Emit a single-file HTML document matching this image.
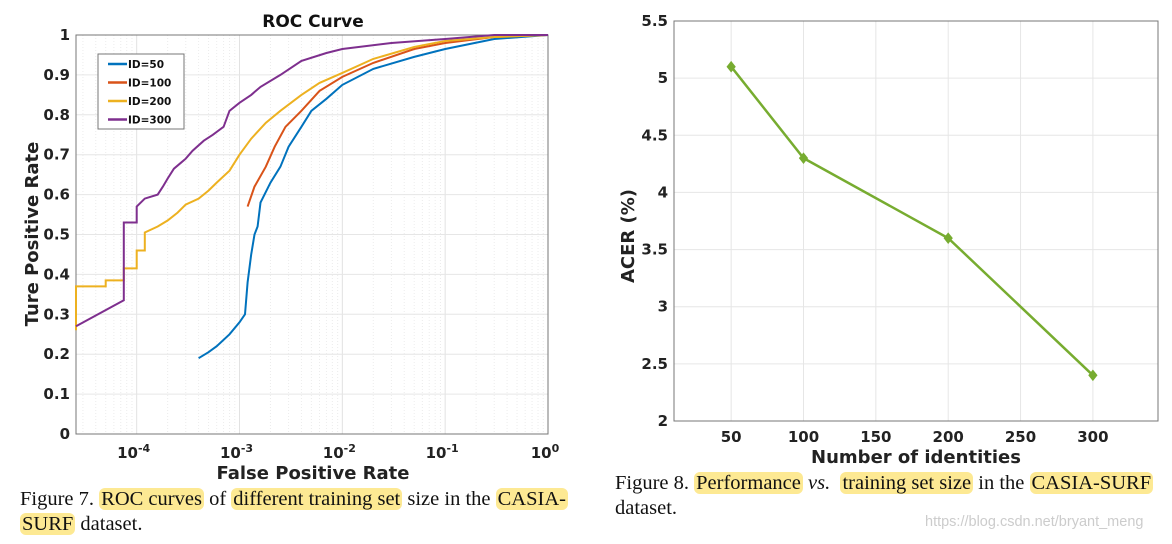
<!DOCTYPE html>
<html><head><meta charset="utf-8"><style>
body{margin:0;width:1172px;height:544px;background:#fff;overflow:hidden;position:relative}
svg{position:absolute;left:0;top:0}
.cap{position:absolute;font-family:"Liberation Serif",serif;font-size:20.5px;color:#111;line-height:25px;white-space:nowrap}
.hl{background:#fde993;border-radius:6px;padding:0 2px}
.wm{position:absolute;left:925px;top:514px;font-family:"Liberation Sans",sans-serif;font-size:14.5px;color:#ccc}
</style></head><body>
<svg id="svg" width="1172" height="544"></svg>
<div class="cap" style="left:20px;top:487px">Figure 7. <span class="hl">ROC curves</span> of <span class="hl">different training set</span> size in the <span class="hl">CASIA-</span><br><span class="hl">SURF</span> dataset.</div>
<div class="cap" style="left:615px;top:471px">Figure 8. <span class="hl">Performance</span> <i>vs.</i> &nbsp;<span class="hl">training set size</span> in the <span class="hl">CASIA-SURF</span><br>dataset.</div>
<div class="wm">https://blog.csdn.net/bryant_meng</div>
<script>
// ROC data (fpr, tpr)
const id50Fpr=[4e-4,5e-4,6e-4,8e-4,1e-3,1.13e-3,1.2e-3,1.3e-3,1.4e-3,1.5e-3,1.6e-3,2e-3,2.5e-3,3e-3,4e-3,5e-3,7e-3,1e-2,2e-2,5e-2,0.1,0.3,1];
const id50Tpr=[0.19,0.205,0.22,0.25,0.28,0.30,0.38,0.45,0.50,0.52,0.58,0.63,0.67,0.72,0.77,0.81,0.84,0.875,0.915,0.945,0.965,0.99,1];
const id100Fpr=[1.2e-3,1.4e-3,1.8e-3,2.2e-3,2.8e-3,4e-3,6e-3,1e-2,2e-2,5e-2,0.1,0.3,1];
const id100Tpr=[0.57,0.62,0.67,0.72,0.77,0.81,0.86,0.895,0.93,0.965,0.98,0.995,1];
const id200Fpr=[2.57e-5,2.57e-5,5e-5,5e-5,7.5e-5,7.5e-5,1e-4,1e-4,1.2e-4,1.2e-4,1.6e-4,2e-4,2.5e-4,3e-4,4e-4,5e-4,6e-4,8e-4,1e-3,1.3e-3,1.8e-3,2.5e-3,4e-3,6e-3,1e-2,2e-2,5e-2,0.1,0.3,1];
const id200Tpr=[0.26,0.37,0.37,0.385,0.385,0.415,0.415,0.46,0.46,0.505,0.52,0.535,0.555,0.575,0.59,0.61,0.63,0.66,0.70,0.74,0.78,0.81,0.85,0.88,0.905,0.94,0.97,0.985,0.995,1];
const id300Fpr=[2.57e-5,7.5e-5,7.5e-5,1e-4,1e-4,1.2e-4,1.6e-4,1.8e-4,2e-4,2.3e-4,2.7e-4,3e-4,3.5e-4,4.5e-4,5.5e-4,7e-4,8e-4,1e-3,1.3e-3,1.6e-3,2.5e-3,4e-3,7e-3,1e-2,3e-2,0.1,0.3,1];
const id300Tpr=[0.27,0.335,0.53,0.53,0.57,0.59,0.60,0.62,0.64,0.665,0.68,0.69,0.71,0.735,0.75,0.77,0.81,0.83,0.85,0.87,0.90,0.935,0.955,0.965,0.98,0.99,1,1];
const rocYTicks=[0,0.1,0.2,0.3,0.4,0.5,0.6,0.7,0.8,0.9,1];
const rocXExp=[-4,-3,-2,-1,0];
// ACER data
const identities=[50,100,200,300];
const acer=[5.1,4.3,3.6,2.4];
const acerYTicks=[2,2.5,3,3.5,4,4.5,5,5.5];
const acerXTicks=[50,100,150,200,250,300];

const NS='http://www.w3.org/2000/svg',svg=document.getElementById('svg');
function el(t,a,txt){const e=document.createElementNS(NS,t);for(const k in a)e.setAttribute(k,a[k]);if(txt!==undefined)e.textContent=txt;svg.appendChild(e);return e;}
const F='"DejaVu Sans","Liberation Sans",sans-serif';
const L=76,R=548,T=35,B=434,lmin=-4.59,lmax=0;
const rx=v=>L+(Math.log10(v)-lmin)/(lmax-lmin)*(R-L);
const ry=v=>B-v*(B-T);
let e=el('rect',{x:L,y:T,width:R-L,height:B-T,fill:'#fff'});

for(let d=-5;d<0;d++)for(let m=1;m<10;m++){const v=m*Math.pow(10,d);if(Math.log10(v)<lmin)continue;const x=rx(v);
 e=el('line',{x1:x,x2:x,y1:T,y2:B,stroke:m==1?'#e2e2e2':'#ececec','stroke-width':1,'stroke-dasharray':m==1?'':'1,2'});
 }
rocYTicks.forEach(v=>{const y=ry(v);
 e=el('line',{x1:L,x2:R,y1:y,y2:y,stroke:'#e6e6e6'});
 e=el('text',{x:L-6,y:y+5,'text-anchor':'end','font-family':F,'font-weight':'bold','font-size':15,fill:'#222'},String(v));
 });
rocXExp.forEach(p=>{const x=rx(Math.pow(10,p));
 e=el('text',{x:x-3,y:458,'text-anchor':'middle','font-family':F,'font-weight':'bold','font-size':15,fill:'#222'});
 e.innerHTML='10<tspan dy="-6" font-size="11">'+p+'</tspan>';
 });
e=el('rect',{x:L,y:T,width:R-L,height:B-T,fill:'none',stroke:'#777'});
const series=[[id50Fpr,id50Tpr,'#0072bd','ID=50'],[id100Fpr,id100Tpr,'#d95319','ID=100'],[id200Fpr,id200Tpr,'#edb120','ID=200'],[id300Fpr,id300Tpr,'#7e2f8e','ID=300']];
series.forEach(s=>{const pts=s[0].map((f,i)=>rx(f).toFixed(1)+','+ry(s[1][i]).toFixed(1)).join(' ');
 e=el('polyline',{points:pts,fill:'none',stroke:s[2],'stroke-width':2});
 });
e=el('rect',{x:98,y:54,width:86,height:75,fill:'#fff',stroke:'#777'});
series.forEach((s,i)=>{const y=64+i*18.5;
 e=el('line',{x1:108,x2:127,y1:y,y2:y,stroke:s[2],'stroke-width':2.5});
 e=el('text',{x:128,y:y+4,'font-family':F,'font-weight':'bold','font-size':10.5,fill:'#111'},s[3]);});
e=el('text',{x:313,y:27,'text-anchor':'middle','font-family':F,'font-weight':'bold','font-size':17,fill:'#111'},'ROC Curve');
e=el('text',{x:313,y:479,'text-anchor':'middle','font-family':F,'font-weight':'bold','font-size':18,fill:'#222'},'False Positive Rate');
e=el('text',{x:38,y:234,'text-anchor':'middle','font-family':F,'font-weight':'bold','font-size':18,fill:'#222',transform:'rotate(-90 38 234)'},'Ture Positive Rate');
const L2=674,R2=1158,T2=21,B2=421,xmn=10.5,xmx=345,ymn=2,ymx=5.5;
const ax=v=>L2+(v-xmn)/(xmx-xmn)*(R2-L2), ay=v=>B2-(v-ymn)/(ymx-ymn)*(B2-T2);
acerXTicks.forEach(v=>{const x=ax(v);
 e=el('line',{x1:x,x2:x,y1:T2,y2:B2,stroke:'#e6e6e6'});
 e=el('text',{x:x,y:442,'text-anchor':'middle','font-family':F,'font-weight':'bold','font-size':15,fill:'#222'},String(v));});
acerYTicks.forEach(v=>{const y=ay(v);
 e=el('line',{x1:L2,x2:R2,y1:y,y2:y,stroke:'#e6e6e6'});
 e=el('text',{x:L2-6,y:y+5,'text-anchor':'end','font-family':F,'font-weight':'bold','font-size':15,fill:'#222'},String(v));});
e=el('rect',{x:L2,y:T2,width:R2-L2,height:B2-T2,fill:'none',stroke:'#777'});
e=el('polyline',{points:identities.map((v,i)=>ax(v).toFixed(1)+','+ay(acer[i]).toFixed(1)).join(' '),fill:'none',stroke:'#77ac30','stroke-width':2.5});

identities.forEach((v,i)=>{const x=ax(v),y=ay(acer[i]);
 e=el('path',{d:`M${x} ${y-5}L${x+4} ${y}L${x} ${y+5}L${x-4} ${y}Z`,fill:'#77ac30',stroke:'#77ac30'});
 });
e=el('text',{x:916,y:463,'text-anchor':'middle','font-family':F,'font-weight':'bold','font-size':18,fill:'#222'},'Number of identities');
e=el('text',{x:634,y:236,'text-anchor':'middle','font-family':F,'font-weight':'bold','font-size':18,fill:'#222',transform:'rotate(-90 634 236)'},'ACER (%)');
</script>
</body></html>
